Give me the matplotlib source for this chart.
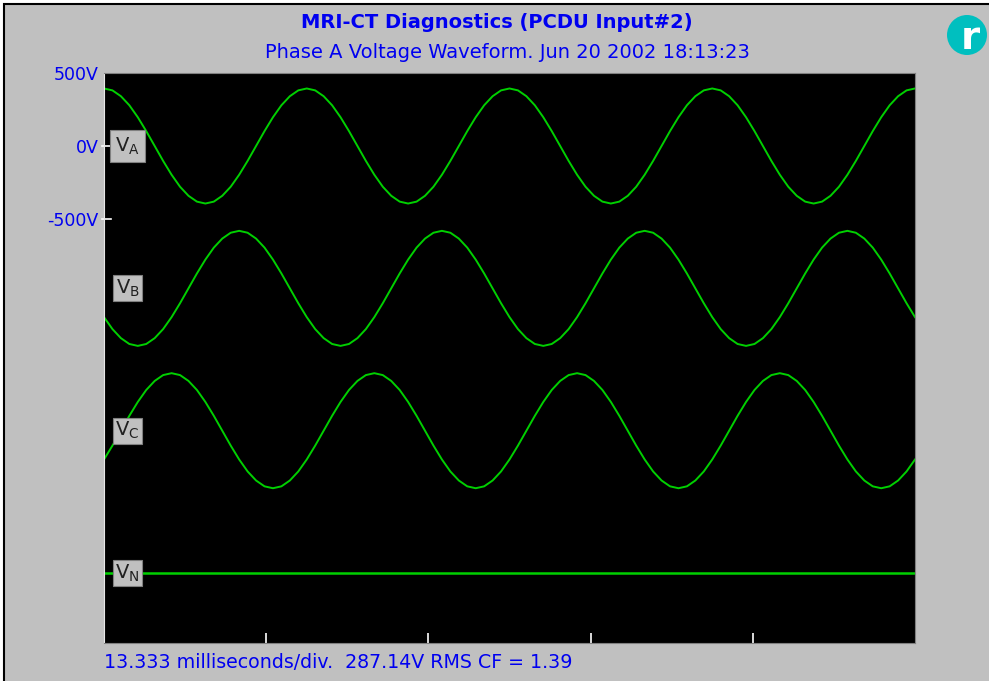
import numpy as np
import matplotlib
matplotlib.use('Agg')
import matplotlib.pyplot as plt
import matplotlib.patches as mpatches
import matplotlib.transforms as mtransforms

plt.rcParams['font.family'] = ['DejaVu Sans']
plt.rcParams['mathtext.default'] = 'regular'

# waveform samples, 24 per 60 Hz cycle (4 cycles), volts
phase_a = [394, 381, 341, 279, 197, 102, 0, -102, -197, -279, -341, -381,
           -394, -381, -341, -279, -197, -102, 0, 102, 197, 279, 341, 381,
           394, 381, 341, 279, 197, 102, 0, -102, -197, -279, -341, -381,
           -394, -381, -341, -279, -197, -102, 0, 102, 197, 279, 341, 381,
           394, 381, 341, 279, 197, 102, 0, -102, -197, -279, -341, -381,
           -394, -381, -341, -279, -197, -102, 0, 102, 197, 279, 341, 381,
           394, 381, 341, 279, 197, 102, 0, -102, -197, -279, -341, -381,
           -394, -381, -341, -279, -197, -102, 0, 102, 197, 279, 341, 381,
           394]
phase_b = [-197, -279, -341, -381, -394, -381, -341, -279, -197, -102, 0, 102,
           197, 279, 341, 381, 394, 381, 341, 279, 197, 102, 0, -102,
           -197, -279, -341, -381, -394, -381, -341, -279, -197, -102, 0, 102,
           197, 279, 341, 381, 394, 381, 341, 279, 197, 102, 0, -102,
           -197, -279, -341, -381, -394, -381, -341, -279, -197, -102, 0, 102,
           197, 279, 341, 381, 394, 381, 341, 279, 197, 102, 0, -102,
           -197, -279, -341, -381, -394, -381, -341, -279, -197, -102, 0, 102,
           197, 279, 341, 381, 394, 381, 341, 279, 197, 102, 0, -102,
           -197]
phase_c = [-197, -102, 0, 102, 197, 279, 341, 381, 394, 381, 341, 279,
           197, 102, 0, -102, -197, -279, -341, -381, -394, -381, -341, -279,
           -197, -102, 0, 102, 197, 279, 341, 381, 394, 381, 341, 279,
           197, 102, 0, -102, -197, -279, -341, -381, -394, -381, -341, -279,
           -197, -102, 0, 102, 197, 279, 341, 381, 394, 381, 341, 279,
           197, 102, 0, -102, -197, -279, -341, -381, -394, -381, -341, -279,
           -197, -102, 0, 102, 197, 279, 341, 381, 394, 381, 341, 279,
           197, 102, 0, -102, -197, -279, -341, -381, -394, -381, -341, -279,
           -197]
neutral = [0, 0]

trace_names = ['A', 'B', 'C', 'N']
trace_offsets = [0, -975, -1950, -2925]   # vertical stacking of the traces
ytick_vals = [500, 0, -500]
ytick_labels = ['500V', '0V', '-500V']

ms_per_div = 13.333
n_div = 5
span = ms_per_div * n_div

t = np.linspace(0, span, len(phase_a))
t_n = [0, span]

gray = '#C0C0C0'
blue = '#0000F0'
green = '#00D000'

W, H = 989, 681
fig = plt.figure(figsize=(W / 100, H / 100), dpi=100, facecolor='white')

# gray panel with black frame
fig.add_artist(mpatches.Rectangle((4 / W, -0.01), 1.02, 1 - 4 / H + 0.01,
                                  transform=fig.transFigure, facecolor=gray,
                                  edgecolor='black', linewidth=1.5, zorder=-10))

ax = fig.add_axes([104 / W, (H - 643) / H, 811 / W, 570 / H])
ax.set_facecolor('black')

for vals, off in zip([phase_a, phase_b, phase_c], trace_offsets[:3]):
    ax.plot(t, np.array(vals) + off, color=green, lw=1.4)
ax.plot(t_n, np.array(neutral) + trace_offsets[3], color=green, lw=1.8)

ax.set_xlim(0, span)
ax.set_ylim(-3404, 500)

ax.set_xticks([ms_per_div * i for i in range(1, n_div)])
ax.set_xticklabels([])
ax.tick_params(axis='x', direction='in', length=7, width=1.2, color='white')
ax.set_yticks(ytick_vals)
ax.set_yticklabels(ytick_labels)
ax.tick_params(axis='y', direction='out', length=0, pad=4, labelsize=12.5, labelcolor=blue)
for y in ytick_vals[1:]:
    ax.plot([-0.2, 0.6], [y, y], color='white', lw=1.2, clip_on=False)

for side in ['right', 'bottom', 'top']:
    ax.spines[side].set_color('#808080')
ax.spines['left'].set_color('#E8E8E8')

# trace labels
lbl_tr = mtransforms.blended_transform_factory(ax.transAxes, ax.transData)
for name, off in zip(trace_names, trace_offsets):
    pad = 0.25 if name == 'A' else 0.12
    ax.text(0.029, off, '$V_{%s}$' % name, transform=lbl_tr, ha='center', va='center',
            fontsize=14, color='#202020',
            bbox=dict(boxstyle='square,pad=%s' % pad, facecolor=gray, edgecolor='#808080', lw=0.8))

fig.text(497 / W, 1 - 22 / H, 'MRI-CT Diagnostics (PCDU Input#2)', ha='center', va='center',
         fontsize=14, fontweight='bold', color=blue)
fig.text(507 / W, 1 - 52 / H, 'Phase A Voltage Waveform. Jun 20 2002 18:13:23', ha='center',
         va='center', fontsize=14, color=blue)
fig.text(104 / W, 1 - 662 / H, '13.333 milliseconds/div.  287.14V RMS CF = 1.39', ha='left',
         va='center', fontsize=13.7, color=blue)

# logo
fig.add_artist(mpatches.Ellipse((967 / W, 1 - 35 / H), 40 / W, 40 / H, transform=fig.transFigure,
                                facecolor='#00BFBF', edgecolor='none'))
fig.text(970 / W, 1 - 38 / H, 'r', ha='center', va='center', fontsize=28, fontweight='bold',
         color='white')

plt.savefig('out.png', dpi=100, facecolor=fig.get_facecolor())
